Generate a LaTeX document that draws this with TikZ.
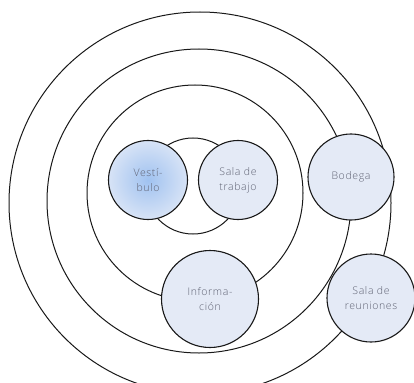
\documentclass[tikz,border=0pt]{standalone}
\usepackage{fontspec}
\setmainfont{Open Sans Light}[LetterSpace=6]
\definecolor{roomfill}{RGB}{228,234,246}
\definecolor{vestin}{RGB}{160,194,240}
\definecolor{vestout}{RGB}{215,227,246}
\definecolor{txt}{RGB}{95,98,115}
\begin{document}
\begin{tikzpicture}[x=1pt,y=-1pt,
  ring/.style={draw=black!90, line width=1pt},
  room/.style={circle, draw=black!90, line width=1.1pt, fill=roomfill,
    inner sep=0pt, align=center, text=txt,
    font=\fontsize{10.5}{15}\selectfont}]
\useasboundingbox (0,0) rectangle (414,382);
\clip (0,0) rectangle (414,382);
\fill[white] (0,0) rectangle (414,382);
\draw[ring] (200,203) circle[radius=191];
\draw[ring] (199,201) circle[radius=152];
\draw[ring] (195,193) circle[radius=108];
\draw[ring] (193,186) circle[radius=48];
\node[room, minimum size=79pt, shade, shading=radial, inner color=vestin, outer color=vestout] (vest) at (148,180) {Vestí-\\bulo};
\node[room, minimum size=79pt] (trabajo) at (238,180) {Sala de\\trabajo};
\node[room, minimum size=86pt] (bodega) at (351,177) {Bodega};
\node[room, minimum size=97pt] (info) at (210,299) {Informa-\\ción};
\node[room, minimum size=88pt] (reuniones) at (371,298) {Sala de\\reuniones};
\end{tikzpicture}
\end{document}
